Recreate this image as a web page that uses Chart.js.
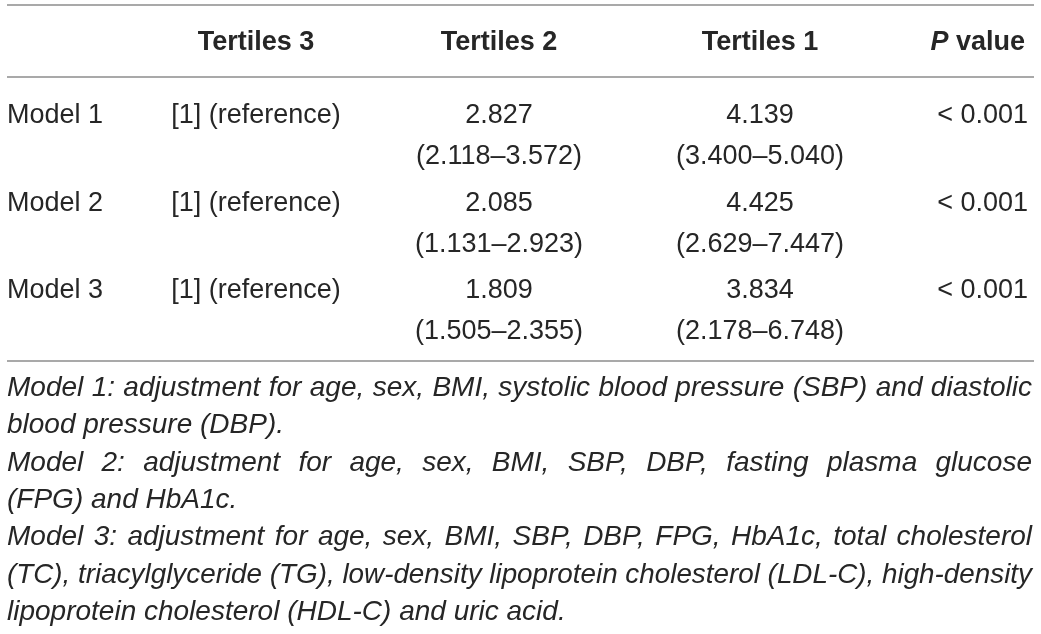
<!DOCTYPE html>
<html>
<head>
<meta charset="utf-8">
<script src="https://cdn.jsdelivr.net/npm/chart.js@4/dist/chart.umd.min.js"></script>
<style>
  html, body { margin: 0; padding: 0; background: #ffffff; }
  #wrap { width: 1041px; height: 634px; position: relative; }
</style>
</head>
<body>
<div id="wrap"><canvas id="c"></canvas></div>
<script>
// ---------------- data ----------------
const columns = ['', 'Tertiles 3', 'Tertiles 2', 'Tertiles 1', 'P value'];
const models = ['Model 1', 'Model 2', 'Model 3'];
const tertile3 = ['[1] (reference)', '[1] (reference)', '[1] (reference)'];
const tertile2OR = ['2.827', '2.085', '1.809'];
const tertile2Low = ['2.118', '1.131', '1.505'];
const tertile2High = ['3.572', '2.923', '2.355'];
const tertile1OR = ['4.139', '4.425', '3.834'];
const tertile1Low = ['3.400', '2.629', '2.178'];
const tertile1High = ['5.040', '7.447', '6.748'];
const pValues = ['< 0.001', '< 0.001', '< 0.001'];
const footnoteLines = [
  'Model 1: adjustment for age, sex, BMI, systolic blood pressure (SBP) and diastolic',
  'blood pressure (DBP).',
  'Model 2: adjustment for age, sex, BMI, SBP, DBP, fasting plasma glucose',
  '(FPG) and HbA1c.',
  'Model 3: adjustment for age, sex, BMI, SBP, DBP, FPG, HbA1c, total cholesterol',
  '(TC), triacylglyceride (TG), low-density lipoprotein cholesterol (LDL-C), high-density',
  'lipoprotein cholesterol (HDL-C) and uric acid.'
];
const footnoteJustify = [true, false, true, false, true, true, false];

// ---------------- layout (positions / styles) ----------------
const layoutCfg = {
  colAnchor: [7, 256, 499, 760, 1028],
  colAlign: ['left', 'center', 'center', 'center', 'right'],
  headerAnchorP: 1025,
  ruleLeft: 7, ruleRight: 1034,
  ruleTop: 5, ruleHead: 77, ruleBottom: 361,
  headerBaseline: 50,
  baselineShift: 10,
  subShift: 51,
  footTop: 396, footStep: 37.3, footLeft: 7, footRight: 1032,
  font: '"Liberation Sans", Arial, Helvetica, sans-serif',
  size: 27,
  footSize: 28,
  text: '#262626',
  rule: '#a9a9a9'
};

const tablePlugin = {
  id: 'tablePlugin',
  afterDraw(chart) {
    const ctx = chart.ctx;
    const xs = chart.scales.x, ys = chart.scales.y;
    const L = layoutCfg;
    const F = L.size + 'px ' + L.font;
    const px = v => xs.getPixelForValue(v);
    ctx.save();
    // rules
    ctx.strokeStyle = L.rule;
    ctx.lineWidth = 2;
    [L.ruleTop, L.ruleHead, L.ruleBottom].forEach(yv => {
      ctx.beginPath();
      ctx.moveTo(px(L.ruleLeft), yv);
      ctx.lineTo(px(L.ruleRight), yv);
      ctx.stroke();
    });
    ctx.fillStyle = L.text;
    ctx.textBaseline = 'alphabetic';
    // header
    ctx.font = 'bold ' + F;
    for (let c = 1; c < 4; c++) {
      ctx.textAlign = L.colAlign[c];
      ctx.fillText(columns[c], px(L.colAnchor[c]), L.headerBaseline);
    }
    // P value header: italic P + bold " value"
    const pv = columns[4];
    const first = pv.slice(0, 1), rest = pv.slice(1);
    ctx.textAlign = 'left';
    ctx.font = 'bold ' + F;
    const wRest = ctx.measureText(rest).width;
    ctx.font = 'italic bold ' + F;
    const wFirst = ctx.measureText(first).width;
    const xEnd = px(L.headerAnchorP);
    ctx.fillText(first, xEnd - wRest - wFirst, L.headerBaseline);
    ctx.font = 'bold ' + F;
    ctx.fillText(rest, xEnd - wRest, L.headerBaseline);
    // body
    ctx.font = F;
    models.forEach((m, i) => {
      const yc = ys.getPixelForValue(i);
      const b = yc + L.baselineShift, s = yc + L.subShift;
      const cells = [
        [m, null],
        [tertile3[i], null],
        [tertile2OR[i], '(' + tertile2Low[i] + '\u2013' + tertile2High[i] + ')'],
        [tertile1OR[i], '(' + tertile1Low[i] + '\u2013' + tertile1High[i] + ')'],
        [pValues[i], null]
      ];
      cells.forEach((cell, c) => {
        ctx.textAlign = L.colAlign[c];
        ctx.fillText(cell[0], px(L.colAnchor[c]), b);
        if (cell[1]) ctx.fillText(cell[1], px(L.colAnchor[c]), s);
      });
    });
    // footnotes (justified)
    ctx.font = 'italic ' + L.footSize + 'px ' + L.font;
    ctx.textAlign = 'left';
    const left = px(L.footLeft), right = px(L.footRight), target = right - left;
    footnoteLines.forEach((line, i) => {
      const y = L.footTop + i * L.footStep;
      const natural = ctx.measureText(line).width;
      if (!footnoteJustify[i]) {
        ctx.fillText(line, left, y);
        return;
      }
      const words = line.split(' ');
      const wordW = words.map(w => ctx.measureText(w).width);
      const sumW = wordW.reduce((a, b) => a + b, 0);
      if (natural >= target) {
        const k = target / natural;
        ctx.save();
        ctx.translate(left, y);
        ctx.scale(k, 1);
        ctx.fillText(line, 0, 0);
        ctx.restore();
      } else {
        const gap = (target - sumW) / (words.length - 1);
        let x = left;
        words.forEach((w, j) => {
          ctx.fillText(w, x, y);
          x += wordW[j] + gap;
        });
      }
    });
    ctx.restore();
  }
};

new Chart(document.getElementById('c'), {
  type: 'scatter',
  data: {
    labels: models,
    datasets: [{
      data: models.map((m, i) => ({ x: layoutCfg.colAnchor[0], y: i })),
      pointRadius: 0,
      showLine: false
    }]
  },
  options: {
    responsive: true,
    maintainAspectRatio: false,
    animation: false,
    events: [],
    layout: { padding: { top: 69.5, bottom: 302, left: 0, right: 0 } },
    plugins: { legend: { display: false }, tooltip: { enabled: false } },
    scales: {
      x: { type: 'linear', min: 0, max: 1041, display: false },
      y: { type: 'category', labels: models, offset: true, display: false }
    }
  },
  plugins: [tablePlugin]
});
</script>
</body>
</html>
